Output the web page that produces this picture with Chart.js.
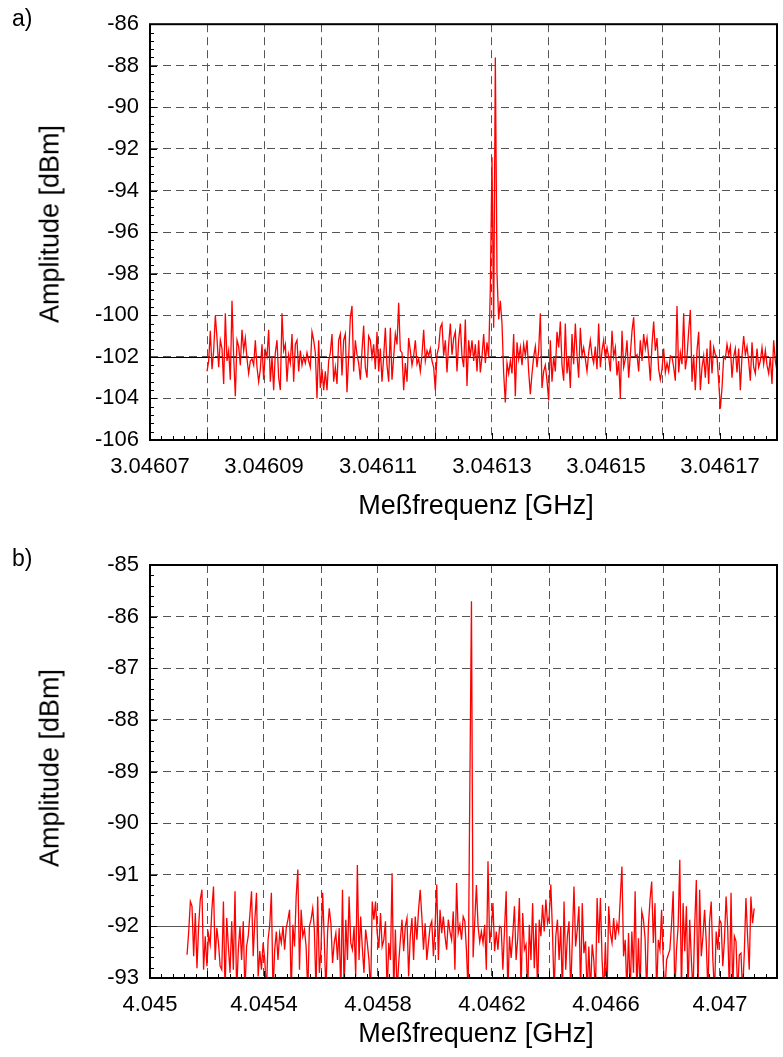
<!DOCTYPE html>
<html>
<head>
<meta charset="utf-8">
<script src="https://cdn.jsdelivr.net/npm/chart.js@4.4.1/dist/chart.umd.min.js"></script>
<style>
  body { margin: 0; background: #fff; width: 783px; height: 1057px; position: relative; overflow: hidden; }
  canvas { position: absolute; left: 0; }
  .txt { position: absolute; font-family: "Liberation Sans", Arial, sans-serif; color: #000; line-height: 1; white-space: nowrap; }
  .tag { left: 12px; font-size: 23px; }
  .xtitle { font-size: 27px; transform: translate(-50%, -50%); }
  .ytitle { font-size: 27px; transform: translate(-50%, -50%) rotate(-90deg); }
</style>
</head>
<body>
<canvas id="chart-a" width="783" height="530" style="top: 0;"></canvas>
<canvas id="chart-b" width="783" height="527" style="top: 530px;"></canvas>
<div class="txt tag" style="top: 7px;">a)</div>
<div class="txt ytitle" style="left: 50px; top: 224px;">Amplitude [dBm]</div>
<div class="txt xtitle" style="left: 476px; top: 505px;">Meßfrequenz [GHz]</div>
<div class="txt tag" style="top: 547px;">b)</div>
<div class="txt ytitle" style="left: 50px; top: 768px;">Amplitude [dBm]</div>
<div class="txt xtitle" style="left: 476px; top: 1033px;">Meßfrequenz [GHz]</div>
<script>
// Panel a) - sweep range (GHz) and measured amplitude (dBm), read off the plot
const freqStartA = 3.04608;
const freqEndA = 3.04618;
const amplitudeA = [
    // 3.04608 .. 3.046105
    -102.7, -102.2, -100.75, -102.6, -101.7, -100.0, -101.1, -102.5, -101.2, -101.6,
    -103.3, -99.9, -102.2, -101.7, -103.1, -99.3, -102.0, -103.9, -101.2, -101.5,
    -102.4, -100.7, -101.7, -101.1, -102.1, -102.8, -102.2, -102.1, -102.4, -101.2,
    -102.5, -103.2, -102.6, -101.4, -103.1, -101.7, -102.0, -100.7, -103.2, -102.0,
    -103.6, -101.8, -101.2, -103.0, -103.6, -99.9, -101.7, -101.4, -103.2, -101.9,
    -102.3, -100.9, -103.2, -101.4, -101.2, -102.7, -101.7, -102.4, -102.0, -102.3,
    -101.8, -102.2, -102.5, -100.8, -101.2, -101.8, -104.0, -101.2, -103.5, -102.6,
    -103.6, -102.7, -103.6, -102.2, -101.8, -100.9, -103.2, -102.5, -103.3, -101.2,
    -100.9, -102.9, -101.2, -100.9, -103.7, -102.0,
    // .. 3.04613
    -100.1, -99.55, -102.7, -101.2, -101.9, -102.3, -103.1, -101.7, -100.5, -102.5,
    -103.0, -101.0, -101.2, -102.0, -101.4, -102.6, -100.8, -102.7, -101.6, -103.2,
    -102.0, -100.6, -102.4, -103.2, -100.6, -103.1, -102.0, -100.9, -101.4, -99.4,
    -101.7, -101.8, -103.6, -102.3, -103.2, -101.1, -101.7, -102.4, -101.95, -101.2,
    -102.35, -102.1, -102.7, -101.9, -100.7, -102.2, -101.7, -101.95, -101.6, -102.2,
    -102.5, -103.6, -101.9, -101.55, -100.6, -100.4, -101.95, -101.2, -102.75, -101.4,
    -100.4, -101.9, -101.1, -100.8, -102.7, -101.2, -100.4, -102.0, -102.5, -100.2,
    -103.4, -101.2, -102.0, -101.2, -102.2, -101.4, -102.7, -101.2, -102.75, -102.0,
    -100.9, -102.3, -101.3, -102.0,
    // carrier
    -98.7, -92.4, -100.6, -87.6, -98.0, -100.2, -99.3, -100.4, -102.8, -104.2,
    -102.3, -102.8, -102.2, -102.8, -100.9, -103.9, -101.3, -102.1,
    // .. 3.04615
    -101.55, -102.4, -101.4, -101.95, -101.2, -102.7, -103.8, -102.8, -102.0, -101.5,
    -102.5, -101.7, -99.9, -103.5, -102.7, -102.4, -103.15, -104.1, -101.2, -103.2,
    -102.0, -102.7, -100.8, -101.55, -100.3, -102.4, -103.15, -100.4, -102.8, -102.0,
    -103.5, -100.9, -102.35, -100.4, -101.9, -103.0, -100.6, -101.95, -101.55, -102.1,
    -102.7, -101.8, -101.2, -101.95, -102.3, -101.5, -102.6, -100.4, -102.5, -101.7,
    -101.2, -102.1, -101.55, -102.0, -102.7, -100.75, -102.0, -101.55, -102.9, -102.2,
    -104.0, -100.75, -102.5, -102.1, -101.2, -103.0, -101.9, -100.75, -100.1, -102.0,
    -101.9, -102.7, -101.2, -102.2, -100.9, -101.6, -101.1, -102.0,
    // .. 3.04618
    -103.15, -101.4, -100.3, -101.7, -101.1, -102.6, -103.1, -102.6, -101.6, -102.75,
    -102.3, -102.7, -101.95, -102.0, -102.5, -103.15, -99.55, -102.75, -101.8, -102.35,
    -99.9, -102.6, -102.0, -100.75, -99.75, -103.2, -101.9, -103.6, -101.7, -100.8,
    -103.6, -102.5, -101.95, -103.0, -101.6, -103.3, -101.2, -102.8, -101.55, -101.9,
    -102.0, -103.15, -104.5, -103.5, -102.0, -102.1, -101.4, -101.9, -101.5, -103.0,
    -102.0, -101.6, -102.75, -101.6, -103.6, -101.95, -101.0, -101.9, -101.5, -102.2,
    -103.15, -101.3, -102.5, -102.8, -101.6, -102.5, -102.2, -101.55, -102.35, -101.7,
    -102.4, -102.8, -102.0, -103.3, -101.2, -102.2, -102.7
];
const xGridA = [3.04607, 3.04608, 3.04609, 3.0461, 3.04611, 3.04612, 3.04613, 3.04614, 3.04615, 3.04616, 3.04617, 3.04618];
const xLabelsA = ['3.04607', '3.04609', '3.04611', '3.04613', '3.04615', '3.04617'];
const yTicksA = [-106, -104, -102, -100, -98, -96, -94, -92, -90, -88, -86];
const noiseLevelA = -102;

// Panel b) - sweep range (GHz) and measured amplitude (dBm)
const freqStartB = 4.04513;
const freqEndB = 4.04712;
const amplitudeB = [
    // 4.04513 .. 4.0458
    -92.55, -92.10, -91.52, -91.61, -92.58, -91.74, -92.81, -92.00, -91.48, -91.29,
    -92.84, -92.19, -92.77, -92.16, -92.35, -91.68, -91.23, -92.65, -92.03, -92.32,
    -92.77, -92.84, -91.52, -93.3, -91.84, -92.39, -92.90, -91.90, -92.84, -91.32,
    -93.3, -92.45, -92.00, -92.65, -91.90, -93.3, -92.39, -92.19, -91.77, -91.32,
    -92.58, -91.87, -91.35, -92.97, -92.48, -92.84, -92.32, -92.65, -93.3, -92.26,
    -91.97, -91.35, -93.3, -92.45, -92.10, -92.65, -92.13, -92.32, -92.00, -92.45,
    -92.03, -91.87, -91.68, -93.3, -91.97, -92.39, -91.42, -90.90, -92.84, -91.68,
    -92.19, -92.06, -92.39, -93.3, -92.00, -91.87, -91.65, -92.06, -93.3, -91.42,
    -92.90, -92.45, -91.35, -92.26, -93.3, -92.10, -91.65, -91.94,
    // .. 4.0461
    -92.71, -92.32, -92.13, -92.65, -92.03, -93.3, -91.29, -93.3, -91.87, -92.65,
    -91.42, -92.32, -92.45, -92.00, -92.97, -90.81, -92.65, -91.81, -92.42, -92.90,
    -92.06, -92.32, -92.65, -93.3, -91.52, -91.87, -91.52, -92.13, -92.42, -91.74,
    -92.39, -92.26, -91.90, -93.3, -92.32, -92.65, -90.97, -93.3, -92.06, -93.3,
    -92.71, -92.26, -91.87, -92.48, -92.00, -91.84, -92.97, -92.19, -91.84, -92.65,
    -91.81, -92.26, -91.68, -91.29, -91.81, -92.45, -91.94, -92.65, -92.32, -92.00,
    -91.90, -92.58, -92.00, -91.19, -92.65, -91.68, -92.13, -91.81, -92.19, -92.45,
    -91.87, -92.10, -92.26, -91.71, -92.84, -91.16, -92.13, -91.97, -92.26, -91.81,
    -91.90, -92.48, -93.3,
    // carrier
    -89.4, -85.7, -92.6, -91.9, -91.2, -92.0, -92.3,
    // .. 4.0466
    -92.10, -92.32, -91.97, -92.84, -90.74, -92.32, -92.06, -91.55, -92.48, -92.10,
    -92.45, -92.00, -92.03, -92.84, -92.06, -91.32, -93.3, -92.19, -92.61, -92.16,
    -91.61, -92.65, -92.23, -91.45, -93.3, -91.74, -92.45, -92.35, -93.3, -91.97,
    -92.65, -91.55, -92.81, -91.94, -93.3, -91.87, -92.19, -91.58, -92.10, -91.48,
    -91.94, -91.81, -91.19, -92.10, -93.3, -92.19, -91.87, -92.65, -92.00, -93.3,
    -91.52, -92.84, -92.19, -91.90, -93.3, -92.26, -91.23, -92.39, -92.06, -91.61,
    -93.3, -91.55, -92.52, -92.29, -93.3, -92.39, -93.3, -92.35, -92.65, -93.3,
    -91.45, -92.32, -91.45, -92.65, -93.3, -92.32, -93.3, -91.61, -92.13, -92.32,
    -91.84, -92.26, -91.94, -92.10, -91.45, -90.84, -92.58, -92.26, -93.3, -92.13,
    // .. 4.04712
    -93.3, -92.10, -92.90, -91.32, -93.3, -92.23, -93.3, -91.71, -91.87, -92.23,
    -93.3, -92.00, -91.48, -91.13, -92.32, -91.55, -93.3, -92.26, -92.45, -91.68,
    -92.71, -93.3, -92.65, -92.55, -92.45, -91.97, -91.32, -93.3, -92.45, -92.00,
    -90.71, -93.3, -91.55, -92.48, -91.61, -93.3, -91.87, -92.65, -93.3, -92.00,
    -91.10, -93.3, -91.29, -92.58, -92.19, -91.68, -92.29, -93.3, -91.90, -91.52,
    -92.65, -93.3, -92.10, -92.45, -91.87, -91.94, -92.77, -92.26, -91.42, -92.06,
    -93.3, -91.35, -93.3, -92.19, -92.29, -93.3, -92.55, -92.52, -93.3, -92.52,
    -91.45, -92.19, -92.84, -91.42, -91.94, -91.65
];
const xGridB = [4.045, 4.0452, 4.0454, 4.0456, 4.0458, 4.046, 4.0462, 4.0464, 4.0466, 4.0468, 4.047, 4.0472];
const xLabelsB = ['4.045', '4.0454', '4.0458', '4.0462', '4.0466', '4.047'];
const yTicksB = [-93, -92, -91, -90, -89, -88, -87, -86, -85];
const noiseLevelB = -92;

const FONT = '"Liberation Sans", Arial, sans-serif';

/**
 * Black frame round the plot area, inward minor/major ticks and the
 * solid reference line at the noise level
 */
const framePlugin = {
    id: 'frame',
    beforeDatasetsDraw(chart, args, opts) {
        const { ctx, chartArea, scales } = chart;
        const y = Math.round(scales.y.getPixelForValue(opts.refLevel)) + 0.5;
        ctx.save();
        ctx.strokeStyle = opts.refColor;
        ctx.lineWidth = 1;
        ctx.beginPath();
        ctx.moveTo(chartArea.left, y);
        ctx.lineTo(chartArea.right, y);
        ctx.stroke();
        ctx.restore();
    },
    afterDraw(chart, args, opts) {
        const { ctx, chartArea, scales } = chart;
        ctx.save();
        ctx.strokeStyle = '#000';
        ctx.lineWidth = 1;

        // left axis ticks
        const ySteps = Math.round((scales.y.max - scales.y.min) / opts.yMinor);
        for (let k = 0; k <= ySteps; k++) {
            const py = Math.round(scales.y.getPixelForValue(scales.y.min + k * opts.yMinor)) + 0.5;
            const len = k % 5 === 0 ? 7 : 4;
            ctx.beginPath();
            ctx.moveTo(chartArea.left, py);
            ctx.lineTo(chartArea.left + len, py);
            ctx.stroke();
        }

        // bottom axis ticks
        const xSteps = Math.round((scales.x.max - scales.x.min) / opts.xMinor);
        for (let k = 0; k <= xSteps; k++) {
            const px = Math.round(scales.x.getPixelForValue(scales.x.min + k * opts.xMinor)) + 0.5;
            const len = k % 5 === 0 ? 7 : 4;
            ctx.beginPath();
            ctx.moveTo(px, chartArea.bottom);
            ctx.lineTo(px, chartArea.bottom - len);
            ctx.stroke();
        }

        ctx.lineWidth = 2;
        ctx.strokeRect(chartArea.left, chartArea.top, chartArea.right - chartArea.left, chartArea.bottom - chartArea.top);
        ctx.restore();
    }
};

/**
 * Build one spectrum panel
 */
function makePanel(canvasId, p) {
    const n = p.amps.length;
    const points = p.amps.map((a, i) => ({
        x: p.freqStart + i * (p.freqEnd - p.freqStart) / (n - 1),
        y: a
    }));

    return new Chart(document.getElementById(canvasId), {
        type: 'line',
        data: {
            datasets: [{
                data: points,
                borderColor: '#ff0000',
                borderWidth: 1.3,
                pointRadius: 0,
                tension: 0,
                fill: false
            }]
        },
        options: {
            responsive: false,
            animation: false,
            events: [],
            layout: { padding: { top: p.padTop, right: 6, left: 0, bottom: 0 } },
            plugins: {
                legend: { display: false },
                tooltip: { enabled: false },
                frame: { refLevel: p.refLevel, refColor: p.refColor, xMinor: p.xMinor, yMinor: p.yMinor }
            },
            scales: {
                x: {
                    type: 'linear',
                    min: p.xGrid[0],
                    max: p.xGrid[p.xGrid.length - 1],
                    afterBuildTicks: (scale) => {
                        scale.ticks = p.xGrid.map(v => ({ value: v }));
                    },
                    afterFit: (scale) => {
                        scale.height = p.xAxisHeight;
                        scale.paddingRight = 0;
                    },
                    grid: { color: '#555', lineWidth: 1, drawTicks: false },
                    border: { display: false, dash: [8, 5] },
                    ticks: {
                        autoSkip: false,
                        maxRotation: 0,
                        padding: 14,
                        color: '#000',
                        font: { family: FONT, size: 22 },
                        callback: (v) => {
                            const s = String(parseFloat(Number(v).toFixed(p.xDigits)));
                            return p.xLabels.includes(s) ? s : '';
                        }
                    }
                },
                y: {
                    min: p.yTicks[0],
                    max: p.yTicks[p.yTicks.length - 1],
                    afterBuildTicks: (scale) => {
                        scale.ticks = p.yTicks.map(v => ({ value: v }));
                    },
                    afterFit: (scale) => { scale.width = 150; },
                    grid: { color: '#555', lineWidth: 1, drawTicks: false },
                    border: { display: false, dash: [8, 5] },
                    ticks: {
                        padding: 11,
                        color: '#000',
                        font: { family: FONT, size: 22 },
                        callback: (v) => String(v)
                    }
                }
            }
        },
        plugins: [framePlugin]
    });
}

document.addEventListener('DOMContentLoaded', () => {
    makePanel('chart-a', {
        amps: amplitudeA, freqStart: freqStartA, freqEnd: freqEndA,
        xGrid: xGridA, xLabels: xLabelsA, xDigits: 5, yTicks: yTicksA,
        xMinor: 0.000002, yMinor: 0.4,
        refLevel: noiseLevelA, refColor: '#000',
        padTop: 22, xAxisHeight: 90
    });
    makePanel('chart-b', {
        amps: amplitudeB, freqStart: freqStartB, freqEnd: freqEndB,
        xGrid: xGridB, xLabels: xLabelsB, xDigits: 4, yTicks: yTicksB,
        xMinor: 0.00004, yMinor: 0.2,
        refLevel: noiseLevelB, refColor: '#555',
        padTop: 35, xAxisHeight: 79
    });
});
</script>
</body>
</html>
